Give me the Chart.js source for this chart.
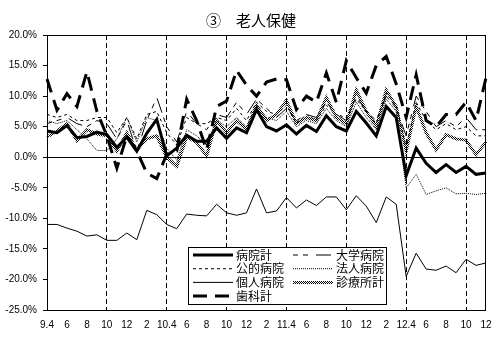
<!DOCTYPE html>
<html>
<head>
<meta charset="utf-8">
<script src="https://cdn.jsdelivr.net/npm/chart.js@4"></script>
<style>
  html, body { margin: 0; background: #fff; }
</style>
</head>
<body>
<canvas id="chart" width="501" height="340"></canvas>
<script>
// Months from H9.4 to H12.12, labelled every second month
const monthLabels = [
  "9.4", "", "6", "", "8", "", "10", "", "12", "", "2", "",
  "10.4", "", "6", "", "8", "", "10", "", "12", "", "2", "",
  "11.4", "", "6", "", "8", "", "10", "", "12", "", "2", "",
  "12.4", "", "6", "", "8", "", "10", "", "12",
];

// Growth rates (%)
const byoinKei = [
  4.3, 4.0, 5.2, 3.2, 3.4, 4.1, 3.7, 1.6, 3.3, 1.0,
  3.9, 6.2, 0.2, 1.5, 3.6, 2.6, 2.6, 4.8, 3.1, 4.8,
  4.0, 7.8, 5.0, 4.3, 5.3, 3.8, 5.2, 4.2, 6.8, 5.0,
  4.3, 7.5, 5.6, 3.5, 8.3, 6.5, -3.0, 1.5, -1.0, -2.5,
  -1.2, -2.5, -1.5, -2.8, -2.6,
];
const daigaku = [
  5.5, 6.0, 6.5, 5.5, 5.0, 6.0, 5.5, 3.0, 6.0, 1.0,
  6.0, 9.8, 5.0, 2.5, 7.5, 5.5, 4.5, 7.0, 6.5, 9.0,
  7.0, 9.5, 8.0, 6.5, 8.0, 6.0, 7.0, 6.5, 9.0, 7.0,
  6.0, 10.0, 7.5, 6.0, 10.0, 8.0, 3.5, 10.0, 7.5, 5.0,
  6.0, 5.0, 6.5, 4.5, 4.5,
];
const koteki = [
  7.0, 6.5, 7.0, 6.0, 6.0, 6.5, 6.5, 4.0, 6.5, 3.0,
  7.0, 7.5, 4.0, 2.0, 6.5, 5.5, 5.5, 6.5, 6.0, 8.0,
  6.0, 9.0, 7.5, 7.0, 8.5, 5.5, 7.0, 6.0, 8.5, 7.0,
  6.5, 9.5, 7.5, 5.5, 10.5, 8.5, 1.5, 9.0, 6.0, 4.5,
  5.5, 4.5, 5.0, 3.5, 3.5,
];
const hojin = [
  6.0, 5.5, 6.0, 4.5, 3.0, 1.1, 1.1, 3.0, 6.5, 2.5,
  6.5, 6.0, 1.5, -0.5, 4.5, 3.5, 2.0, 6.0, 5.0, 6.5,
  5.0, 8.5, 6.5, 6.0, 7.5, 5.0, 6.0, 5.5, 8.0, 6.0,
  5.0, 9.0, 6.5, 4.5, 9.5, 7.5, -5.0, -2.8, -6.1, -5.5,
  -5.0, -6.0, -5.9, -6.1, -5.9,
];
const kojin = [
  -11.0, -11.0, -11.6, -12.1, -12.9, -12.7, -13.6, -13.6, -12.4, -13.5,
  -8.7, -9.4, -11.0, -11.7, -9.3, -9.5, -9.6, -7.7, -9.1, -9.5,
  -9.1, -5.2, -9.1, -8.8, -6.6, -8.3, -7.0, -7.9, -6.5, -6.5,
  -8.6, -6.3, -8.0, -10.7, -6.5, -7.7, -19.5, -15.7, -18.3, -18.5,
  -17.8, -18.9, -16.7, -17.7, -17.3,
];
const shinryojo = [
  3.3, 4.3, 5.5, 2.7, 4.5, 3.8, 3.5, 1.0, 4.0, 1.2,
  3.0, 3.5, 0.0, -1.5, 3.3, 2.4, 0.2, 6.0, 4.0, 6.0,
  4.5, 8.5, 6.0, 7.0, 9.3, 5.5, 6.5, 6.0, 9.8, 6.5,
  5.5, 11.0, 7.5, 5.0, 11.0, 8.3, 1.0, 8.3, 4.0, 1.2,
  3.7, 3.0, 2.8, 0.4, 2.5,
];
const shika = [
  12.8, 7.7, 10.4, 8.3, 14.0, 7.5, 3.5, -1.8, 3.5, 1.0,
  -2.6, -3.5, 0.5, 1.0, 9.5, 6.0, 1.2, 8.3, 9.2, 14.2,
  11.8, 10.0, 12.3, 12.8, 12.7, 7.8, 10.0, 9.0, 13.8, 9.0,
  15.8, 13.0, 10.5, 15.0, 16.5, 12.0, 6.5, 13.5, 6.0, 5.0,
  7.0, 7.0, 9.0, 6.0, 13.0,
];

const canvas = document.getElementById("chart");
const jpFont = "'Noto Sans CJK JP', sans-serif";

// 50% dither, like the grey clinic line
function ditherPattern() {
  const c = document.createElement("canvas");
  c.width = 2;
  c.height = 2;
  const g = c.getContext("2d");
  g.fillStyle = "#000";
  g.fillRect(0, 0, 1, 1);
  g.fillRect(1, 1, 1, 1);
  return canvas.getContext("2d").createPattern(c, "repeat");
}

function series(label, data, width, dash, color = "#000") {
  return {
    label,
    data,
    borderColor: color,
    borderWidth: width,
    borderDash: dash,
    pointRadius: 0,
    tension: 0,
    fill: false,
  };
}

const datasets = [
  series("病院計", byoinKei, 3, []),
  series("歯科計", shika, 3, [14, 8]),
  series("個人病院", kojin, 1, []),
  series("大学病院", daigaku, 1, [5, 5, 5, 8, 15, 5]),
  series("公的病院", koteki, 1, [3, 3]),
  series("法人病院", hojin, 1, [1, 1]),
  series("診療所計", shinryojo, 3, [], ditherPattern()),
];

// legend: [dataset label, column, row]
const legendLayout = [
  ["病院計", 0, 0], ["公的病院", 0, 1], ["個人病院", 0, 2], ["歯科計", 0, 3],
  ["大学病院", 1, 0], ["法人病院", 1, 1], ["診療所計", 1, 2],
];

const decorations = {
  id: "decorations",
  afterDraw(chart) {
    const { ctx, chartArea: a } = chart;
    ctx.save();
    // frame
    ctx.strokeStyle = "#000";
    ctx.lineWidth = 1;
    ctx.setLineDash([]);
    ctx.strokeRect(a.left + 0.5, a.top + 0.5, a.right - a.left - 1, a.bottom - a.top);

    // title
    ctx.fillStyle = "#000";
    ctx.font = "15px " + jpFont;
    ctx.textAlign = "center";
    ctx.textBaseline = "middle";
    ctx.fillText("③　老人保健", 251, 20);

    // legend box
    ctx.fillStyle = "#fff";
    ctx.fillRect(188, 247, 198, 57);
    ctx.strokeRect(188.5, 247.5, 198, 57);
    ctx.font = "12px " + jpFont;
    ctx.textAlign = "left";
    legendLayout.forEach(([label, col, row]) => {
      const ds = chart.data.datasets.find((d) => d.label === label);
      const x1 = col === 0 ? 193 : 293;
      const y = 255 + row * 13.7;
      ctx.strokeStyle = ds.borderColor;
      ctx.lineWidth = ds.borderWidth;
      ctx.setLineDash(ds.borderDash);
      ctx.beginPath();
      ctx.moveTo(x1, y);
      ctx.lineTo(x1 + 40, y);
      ctx.stroke();
      ctx.fillStyle = "#000";
      ctx.fillText(label, x1 + 43, y);
    });
    ctx.restore();
  },
};

Chart.defaults.font.family = "'Liberation Sans', sans-serif";
Chart.defaults.font.size = 10;
Chart.defaults.color = "#000";

new Chart(canvas, {
  type: "line",
  data: { labels: monthLabels, datasets },
  options: {
    responsive: false,
    animation: false,
    layout: { padding: { top: 35, right: 15, left: 0, bottom: 0 } },
    plugins: { legend: { display: false }, tooltip: { enabled: false } },
    scales: {
      x: {
        afterFit: (s) => { s.height = 30; },
        grid: {
          color: (c) => (c.index % 6 === 0 && c.index > 0 && c.index < 44 ? "#000" : "transparent"),
          drawTicks: false,
        },
        border: { display: false, dash: [5, 3] },
        ticks: {
          autoSkip: false,
          maxRotation: 0,
          minRotation: 0,
          padding: 9,
          callback: (v, i) => monthLabels[i],
        },
      },
      y: {
        min: -25,
        max: 20,
        afterFit: (s) => { s.width = 47; },
        grid: {
          color: (c) => (c.tick && c.tick.value === 0 ? "#000" : "transparent"),
          tickColor: "#000",
          tickLength: 4,
        },
        border: { display: false },
        ticks: {
          stepSize: 5,
          padding: 6,
          callback: (v) => v.toFixed(1) + "%",
        },
      },
    },
  },
  plugins: [decorations],
});
</script>
</body>
</html>
